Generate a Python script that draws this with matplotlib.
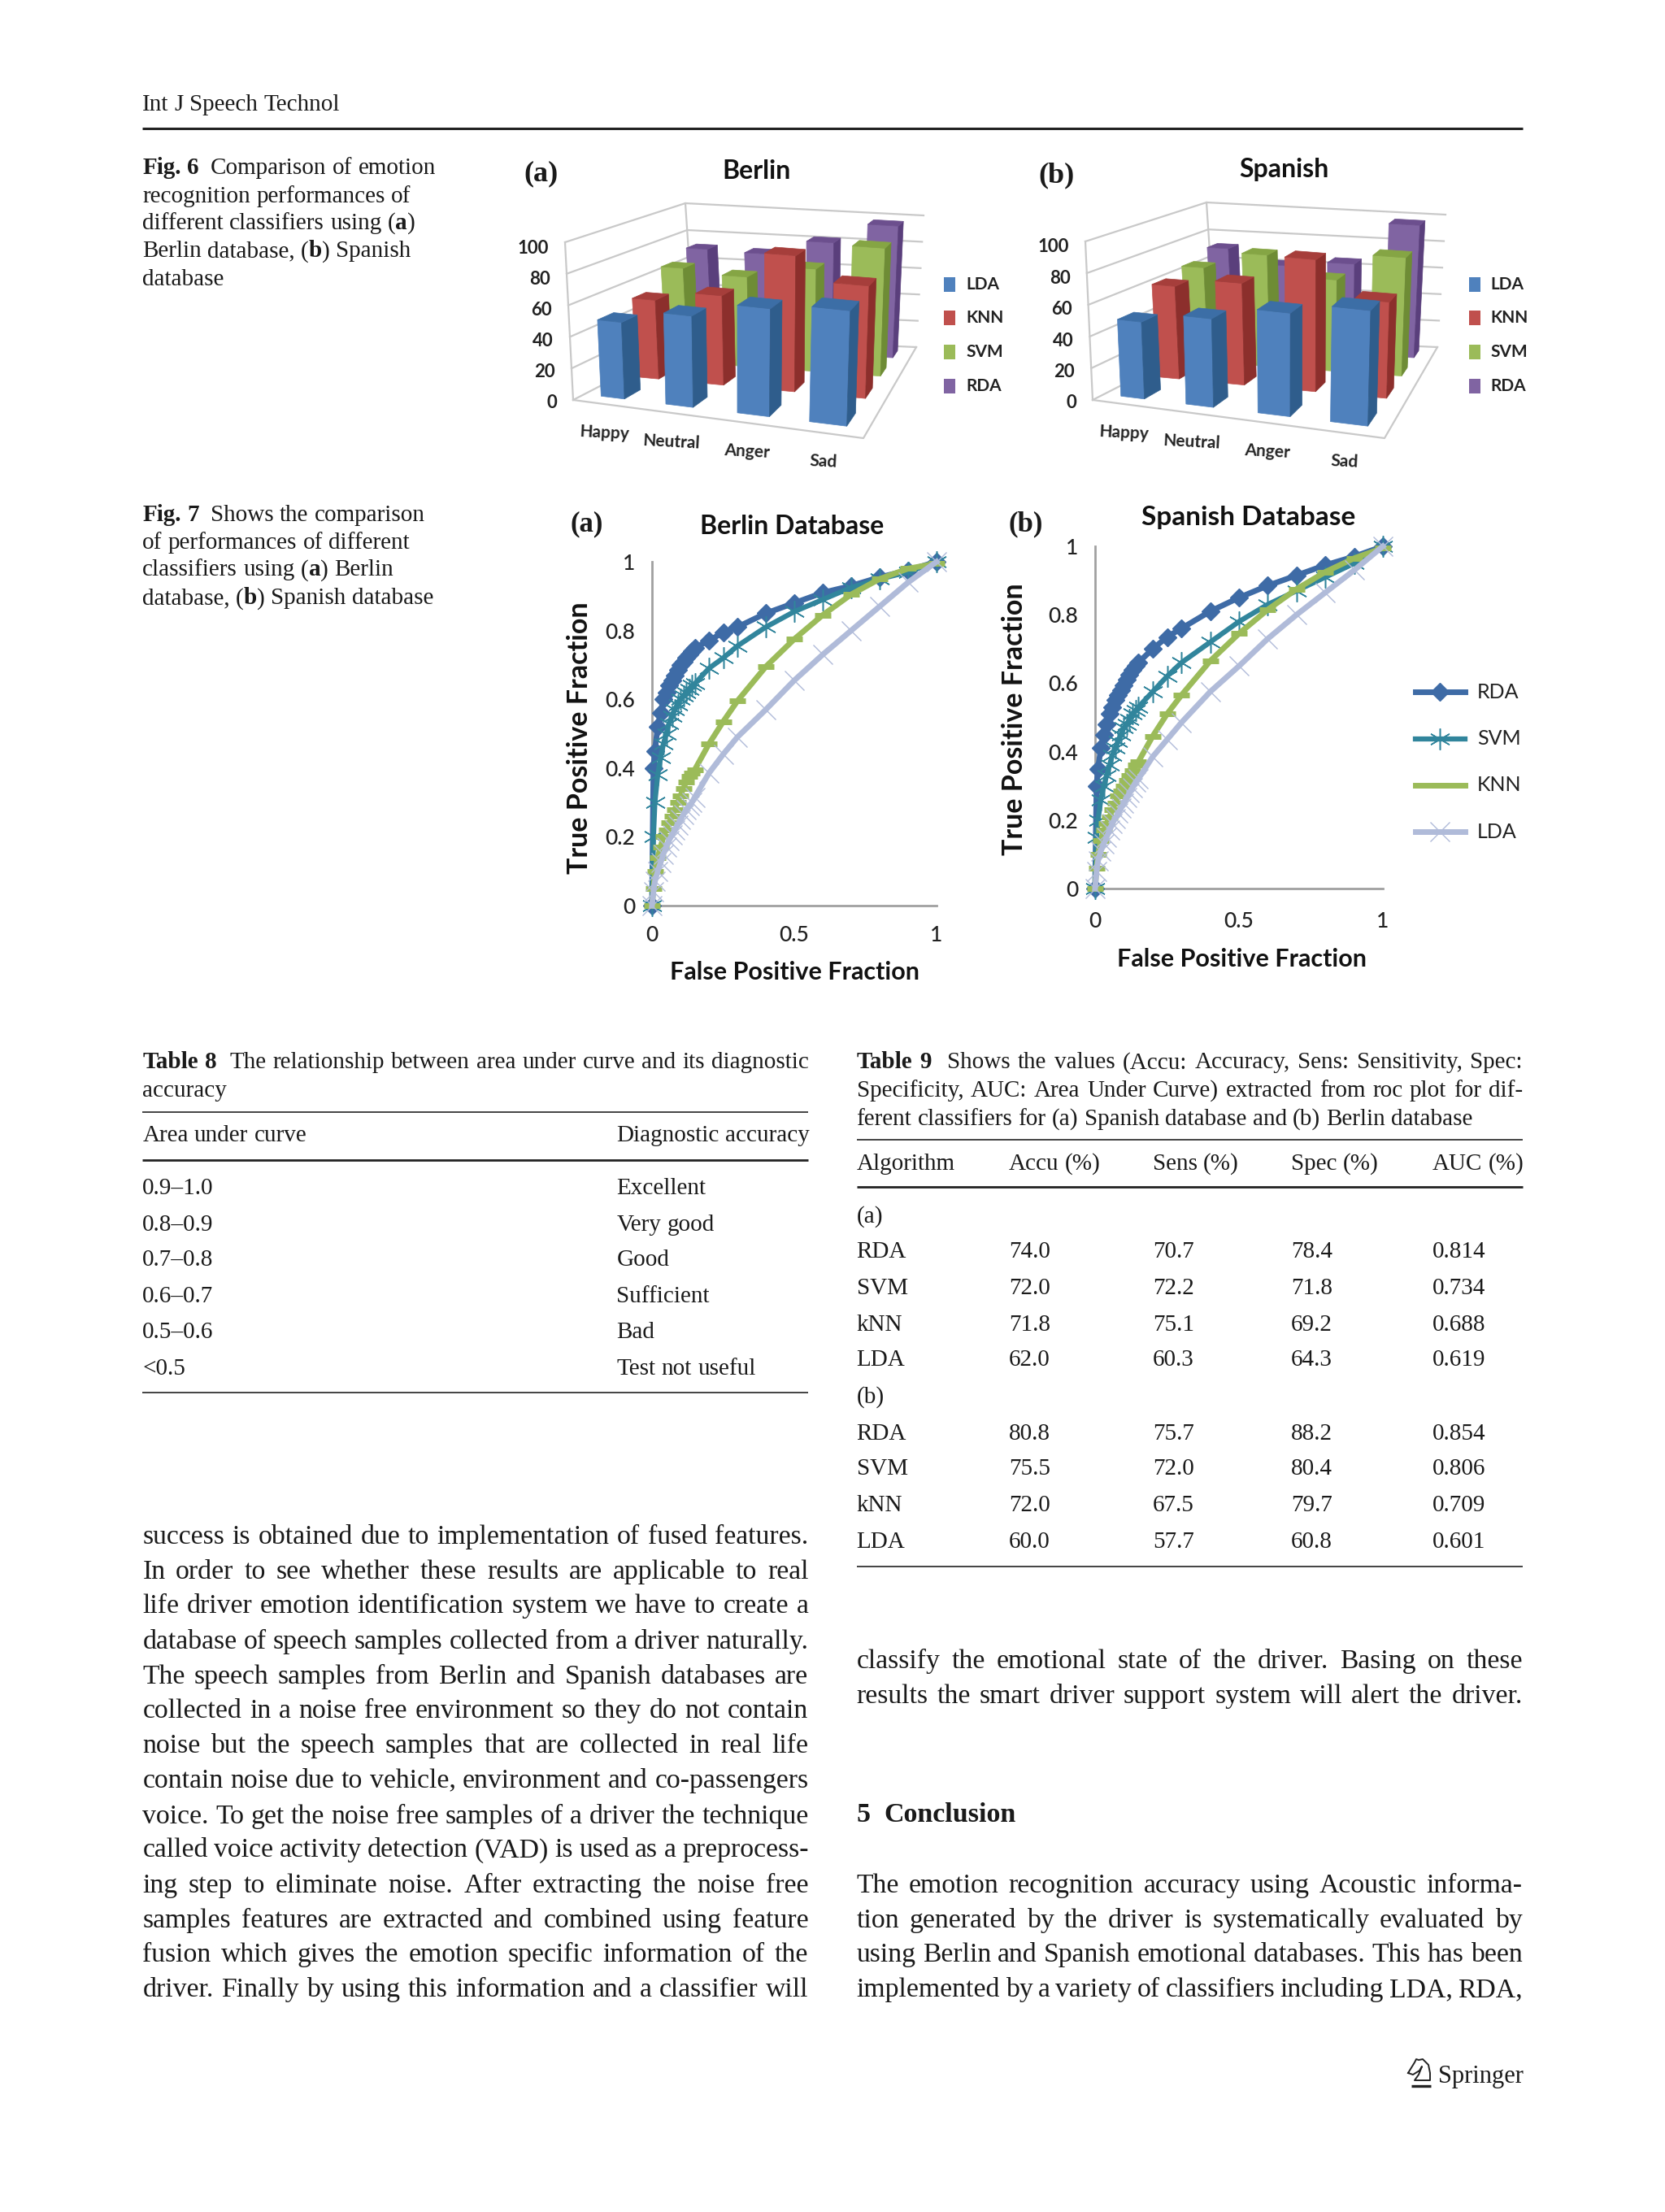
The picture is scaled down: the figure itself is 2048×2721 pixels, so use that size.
import numpy as np
import matplotlib
matplotlib.use("Agg")
import matplotlib.pyplot as plt

S = 2048 / 1180
SERIF = "Liberation Serif"
SANS = "Lato"

# --- figure 6 values
categories = ["Happy", "Neutral", "Anger", "Sad"]
bar_series = ["LDA", "KNN", "SVM", "RDA"]
berlin_lda = [49, 58, 68, 72]
berlin_knn = [53, 60, 91, 75]
berlin_svm = [66, 63, 72, 90]
berlin_rda = [72, 71, 82, 97]
spanish_lda = [49, 56, 65, 72]
spanish_knn = [62, 68, 88, 64]
spanish_svm = [66, 78, 64, 83]
spanish_rda = [72, 62, 66, 97]
value_ticks = [0, 20, 40, 60, 80, 100]
category_pos = [0.13, 0.405, 0.665, 0.89]

# --- figure 7 values
roc_fpr = [0, 0.005, 0.01, 0.02, 0.03, 0.04, 0.05, 0.06, 0.07, 0.08, 0.09, 0.10, 0.11, 0.12, 0.13,
           0.14, 0.15, 0.20, 0.25, 0.30, 0.40, 0.50, 0.60, 0.70, 0.80, 0.90, 1.0]
ber_rda = [0, 0.40, 0.45, 0.52, 0.56, 0.60, 0.62, 0.64, 0.655, 0.67, 0.685, 0.70, 0.71, 0.72, 0.73,
           0.74, 0.75, 0.77, 0.795, 0.81, 0.85, 0.88, 0.91, 0.93, 0.955, 0.975, 1.0]
ber_svm = [0, 0.20, 0.30, 0.38, 0.43, 0.47, 0.50, 0.53, 0.55, 0.57, 0.585, 0.60, 0.61, 0.62, 0.63,
           0.64, 0.645, 0.69, 0.72, 0.755, 0.81, 0.855, 0.89, 0.925, 0.95, 0.97, 1.0]
ber_knn = [0, 0.05, 0.10, 0.14, 0.17, 0.20, 0.22, 0.24, 0.26, 0.28, 0.30, 0.32, 0.34, 0.36, 0.375,
           0.385, 0.395, 0.47, 0.535, 0.595, 0.695, 0.775, 0.845, 0.905, 0.95, 0.98, 0.995]
ber_lda = [0, 0.04, 0.07, 0.10, 0.125, 0.15, 0.17, 0.19, 0.205, 0.22, 0.235, 0.25, 0.265, 0.28, 0.29,
           0.30, 0.315, 0.385, 0.44, 0.49, 0.57, 0.655, 0.73, 0.80, 0.87, 0.94, 1.0]
spa_rda = [0, 0.30, 0.35, 0.41, 0.45, 0.48, 0.51, 0.53, 0.55, 0.565, 0.58, 0.595, 0.61, 0.625, 0.64,
           0.65, 0.66, 0.70, 0.735, 0.76, 0.81, 0.85, 0.885, 0.915, 0.945, 0.97, 1.0]
spa_svm = [0, 0.15, 0.20, 0.26, 0.30, 0.33, 0.36, 0.39, 0.41, 0.43, 0.45, 0.47, 0.48, 0.495, 0.51,
           0.52, 0.53, 0.575, 0.62, 0.66, 0.72, 0.78, 0.83, 0.87, 0.91, 0.95, 1.0]
spa_knn = [0, 0.06, 0.10, 0.14, 0.17, 0.19, 0.21, 0.23, 0.25, 0.27, 0.285, 0.30, 0.315, 0.33, 0.345,
           0.36, 0.37, 0.445, 0.51, 0.565, 0.665, 0.745, 0.815, 0.875, 0.925, 0.965, 0.995]
spa_lda = [0, 0.05, 0.08, 0.11, 0.13, 0.15, 0.17, 0.19, 0.205, 0.22, 0.235, 0.25, 0.265, 0.28, 0.295,
           0.31, 0.32, 0.385, 0.435, 0.485, 0.575, 0.65, 0.73, 0.80, 0.865, 0.93, 1.0]

# --- tables
table8_head = ["Area under curve", "Diagnostic accuracy"]
table8_area = ["0.9–1.0", "0.8–0.9", "0.7–0.8", "0.6–0.7", "0.5–0.6", "<0.5"]
table8_diag = ["Excellent", "Very good", "Good", "Sufficient", "Bad", "Test not useful"]
table9_head = ["Algorithm", "Accu (%)", "Sens (%)", "Spec (%)", "AUC (%)"]
table9_rows = [["(a)"],
               ["RDA", "74.0", "70.7", "78.4", "0.814"],
               ["SVM", "72.0", "72.2", "71.8", "0.734"],
               ["kNN", "71.8", "75.1", "69.2", "0.688"],
               ["LDA", "62.0", "60.3", "64.3", "0.619"],
               ["(b)"],
               ["RDA", "80.8", "75.7", "88.2", "0.854"],
               ["SVM", "75.5", "72.0", "80.4", "0.806"],
               ["kNN", "72.0", "67.5", "79.7", "0.709"],
               ["LDA", "60.0", "57.7", "60.8", "0.601"]]

body_left = ["success is obtained due to implementation of fused features.",
             "In order to see whether these results are applicable to real",
             "life driver emotion identification system we have to create a",
             "database of speech samples collected from a driver naturally.",
             "The speech samples from Berlin and Spanish databases are",
             "collected in a noise free environment so they do not contain",
             "noise but the speech samples that are collected in real life",
             "contain noise due to vehicle, environment and co-passengers",
             "voice. To get the noise free samples of a driver the technique",
             "called voice activity detection (VAD) is used as a preprocess-",
             "ing step to eliminate noise. After extracting the noise free",
             "samples features are extracted and combined using feature",
             "fusion which gives the emotion specific information of the",
             "driver. Finally by using this information and a classifier will"]
body_left_y = [1089, 1114, 1138, 1163, 1188, 1212, 1237, 1262, 1287, 1311, 1336, 1361, 1385, 1410]
body_right = ["classify the emotional state of the driver. Basing on these",
              "results the smart driver support system will alert the driver.",
              "The emotion recognition accuracy using Acoustic informa-",
              "tion generated by the driver is systematically evaluated by",
              "using Berlin and Spanish emotional databases. This has been",
              "implemented by a variety of classifiers including LDA, RDA,"]
body_right_y = [1177, 1202, 1336, 1361, 1385, 1410]

fig = plt.figure(figsize=(20.48, 27.21), dpi=100)
page = fig.add_axes([0, 0, 1, 1])
page.set_xlim(0, 2048)
page.set_ylim(2721, 0)
page.axis("off")
rend = fig.canvas.get_renderer()


def width(txt, size, bold):
    t = page.text(0, 0, txt, family=SERIF, fontsize=size, weight="bold" if bold else "normal")
    w = t.get_window_extent(rend).width
    t.remove()
    return w


def line(s, x, y, size=21, x1=None):
    # s: '|' toggles bold, x/y/x1 in the 1180 view, x1 set means justified
    frags = []
    pending = 0
    for i, run in enumerate(s.split("|")):
        for j, word in enumerate(run.split(" ")):
            if j > 0:
                pending += 1
            if word:
                frags.append([word, i % 2 == 1, pending])
                pending = 0
    widths = [width(f[0], size, f[1]) for f in frags]
    gaps = sum(f[2] for f in frags[1:])
    gap = width("n n", size, False) - width("nn", size, False)
    if x1 is not None and gaps:
        gap = ((x1 - x) * S - sum(widths)) / gaps
    px = x * S
    for k, (f, w) in enumerate(zip(frags, widths)):
        if k > 0:
            px += gap * f[2]
        page.text(px, (y + 5.2) * S, f[0], family=SERIF, fontsize=size, va="baseline",
                  weight="bold" if f[1] else "normal", color="#1a1a1a")
        px += w


def rule(x0, x1, y, lw=1.2):
    page.plot([x0 * S, x1 * S], [y * S, y * S], color="#222222", lw=lw, solid_capstyle="butt")


def unit_square_map(corners):
    # projective map of the unit square on four image points
    (x0, y0), (x1, y1), (x2, y2), (x3, y3) = corners
    dx1, dx2, sx = x1 - x2, x3 - x2, x0 - x1 + x2 - x3
    dy1, dy2, sy = y1 - y2, y3 - y2, y0 - y1 + y2 - y3
    g, h = np.linalg.solve([[dx1, dx2], [dy1, dy2]], [sx, sy])
    a, b, c = x1 - x0 + g * x1, x3 - x0 + h * x3, x0
    d, e, f = y1 - y0 + g * y1, y3 - y0 + h * y3, y0

    def to_image(u, v):
        w = g * u + h * v + 1
        return np.array([(a * u + b * v + c) / w, (d * u + e * v + f) / w])
    return to_image


BAR_COLORS = [("#4F81BD", "#2F5D8C", "#3C6EA6"),
              ("#C0504D", "#8C2F2C", "#A63E3B"),
              ("#9BBB59", "#6E8C35", "#85A544"),
              ("#8064A2", "#5A3F7C", "#6C4F8E")]


def bars3d(floor, top, values, legend_x, cat_dx):
    low = unit_square_map(floor)
    high = unit_square_map(top)

    def P(u, v, z):
        a = low(u, v)
        return a + (high(u, v) - a) * z / 100.0

    # walls
    grid = dict(color="#c9c9c9", lw=1.6, zorder=1)
    for z in value_ticks:
        pts = np.array([P(0, 0, z), P(0, 1, z), P(1, 1, z)])
        page.plot(pts[:, 0], pts[:, 1], **grid)
    for u, v in [(0, 0), (0, 1)]:
        pts = np.array([P(u, v, 0), P(u, v, 100)])
        page.plot(pts[:, 0], pts[:, 1], **grid)
    pts = np.array([P(0, 0, 0), P(1, 0, 0), P(1, 1, 0)])
    page.plot(pts[:, 0], pts[:, 1], **grid)

    du, dv = 0.052, 0.055
    for s in range(3, -1, -1):
        for c in range(4):
            uc, vc = category_pos[c], (s + 0.5) / 4
            z = values[s][c]
            u0, u1, v0, v1 = uc - du, uc + du, vc - dv, vc + dv
            face, side, cap = BAR_COLORS[s]
            polys = [([P(u0, v0, 0), P(u1, v0, 0), P(u1, v0, z), P(u0, v0, z)], face),
                     ([P(u1, v0, 0), P(u1, v1, 0), P(u1, v1, z), P(u1, v0, z)], side),
                     ([P(u0, v0, z), P(u1, v0, z), P(u1, v1, z), P(u0, v1, z)], cap)]
            for poly, col in polys:
                poly = np.array(poly)
                page.fill(poly[:, 0], poly[:, 1], color=col, lw=0.5, zorder=3 + (3 - s))

    for z in value_ticks:
        p = P(0, 0, z)
        page.text(p[0] - 20, p[1] + 4 + 3 * z / 100, str(z), ha="right", va="center", family=SANS,
                  fontsize=16, weight="bold", color="#222222")
    for c, name in enumerate(categories):
        p = P(category_pos[c], 0, 0)
        page.text(p[0] + cat_dx, p[1] + 36, name, ha="center", va="center", family=SANS,
                  fontsize=15, weight="bold", rotation=-3, color="#222222")
    for s, name in enumerate(bar_series):
        y = (201.5 + 24 * s) * S
        page.fill([legend_x - 7, legend_x + 7, legend_x + 7, legend_x - 7],
                  [y - 9, y - 9, y + 9, y + 9], color=BAR_COLORS[s][0], lw=0)
        page.text(legend_x + 20, y, name, va="center", family=SANS, fontsize=15,
                  weight="bold", color="#222222")


def roc(box, curves, title, tcen, xlab, ylab, xpad, tsize=23):
    x0, x1, ytop, ybot = box
    ax = fig.add_axes([x0 / 2048, 1 - ybot / 2721, (x1 - x0) / 2048, (ybot - ytop) / 2721])
    ax.patch.set_alpha(0)
    styles = [dict(color="#3E6BA6", marker="D", ms=11, lw=5),
              dict(color="#31859C", marker=(6, 2, 0), ms=19, mew=1.1, lw=4.5),
              dict(color="#9BBB59", marker="_", ms=15, mew=5, lw=5),
              dict(color="#B0BBD9", marker="x", ms=17, mew=1.0, lw=5)]
    for i, (name, ys, st) in enumerate(zip(["RDA", "SVM", "KNN", "LDA"], curves, styles)):
        ax.plot(roc_fpr, ys, clip_on=False, label=name, zorder=3 + i, **st)
    ax.set_xlim(0, 1)
    ax.set_ylim(0, 1)
    ax.set_xticks([0, 0.5, 1], ["0", "0.5", "1"])
    ax.set_yticks([0, 0.2, 0.4, 0.6, 0.8, 1], ["0", "0.2", "0.4", "0.6", "0.8", "1"])
    ax.tick_params(axis="x", length=0, labelsize=19, pad=xpad, labelcolor="#222222")
    ax.tick_params(axis="y", length=0, labelsize=19, pad=15, labelcolor="#222222")
    for lab in ax.get_xticklabels() + ax.get_yticklabels():
        lab.set_family(SANS)
        lab.set_weight("medium")
    for sp in ["top", "right"]:
        ax.spines[sp].set_visible(False)
    for sp in ["left", "bottom"]:
        ax.spines[sp].set_color("#a0a0a0")
        ax.spines[sp].set_linewidth(2)
    page.text(tcen[0] * S, tcen[1] * S, title, ha="center", va="center", family=SANS, fontsize=tsize,
              weight="bold", color="#111111")
    page.text(xlab[0] * S, xlab[1] * S, "False Positive Fraction", ha="center", va="center",
              family=SANS, fontsize=22, weight="bold", color="#111111")
    page.text(ylab[0] * S, ylab[1] * S, "True Positive Fraction", ha="center", va="center",
              family=SANS, fontsize=24.5, weight="bold", rotation=90, color="#111111")
    return ax


# header
line("Int J Speech Technol", 101, 73)
rule(101, 1079, 91, lw=2.2)

# figure 6
for i, s in enumerate(["|Fig. 6|  Comparison of emotion", "recognition performances of",
                       "different classifiers using (|a|)", "Berlin database, (|b|) Spanish", "database"]):
    line(s, 101, [118, 138, 157, 177, 197][i])
line("|(a)|", 371, 123, size=26)
line("|(b)|", 736, 124, size=26)
page.text(536 * S, 121 * S, "Berlin", ha="center", va="center", family=SANS, fontsize=23, weight="bold", color="#111111")
page.text(910 * S, 120 * S, "Spanish", ha="center", va="center", family=SANS, fontsize=23, weight="bold", color="#111111")
bars3d([(705, 492), (1062, 539), (1127, 427), (854, 415)],
       [(695, 298), (1069, 337), (1136, 265), (843, 250)],
       [berlin_lda, berlin_knn, berlin_svm, berlin_rda], 673 * S, 3)
bars3d([(1344, 492), (1703, 539), (1768, 427), (1495, 415)],
       [(1335, 297), (1709, 337), (1778, 264), (1484, 249)],
       [spanish_lda, spanish_knn, spanish_svm, spanish_rda], 1045 * S, 3)

# figure 7
for i, s in enumerate(["|Fig. 7|  Shows the comparison", "of performances of different",
                       "classifiers using (|a|) Berlin", "database, (|b|) Spanish database"]):
    line(s, 101, [364, 384, 403, 423][i])
line("|(a)|", 404, 371, size=25)
line("|(b)|", 715, 371, size=25)
roc((802, 1152, 691, 1114), [ber_rda, ber_svm, ber_knn, ber_lda], "Berlin Database", (561, 373), (563, 689), (411, 523), 17)
ax_sp = roc((1347, 1701, 672, 1093), [spa_rda, spa_svm, spa_knn, spa_lda], "Spanish Database", (885, 367), (880, 680), (719, 510), 20, tsize=24)
handles, labels = ax_sp.get_legend_handles_labels()
for i, (h, name) in enumerate(zip(handles, labels)):
    y = [490.5, 523.5, 556.5, 589.5][i] * S
    page.plot([1003 * S, 1038 * S], [y, y], color=h.get_color(), lw=h.get_linewidth(), zorder=2)
    page.plot([1020.5 * S], [y], color=h.get_color(), marker=h.get_marker(), ms=h.get_markersize(),
              mew=h.get_markeredgewidth(), zorder=3)
    page.text(1047 * S, y, name, va="center", family=SANS, fontsize=18, color="#222222")

# table 8
line("|Table 8|  The relationship between area under curve and its diagnostic", 101, 752, x1=573)
line("accuracy", 101, 772)
rule(101, 573, 788)
rule(101, 573, 822, lw=2)
line(table8_head[0], 101, 804)
line(table8_head[1], 437, 804)
for i, y in enumerate([841, 867, 892, 918, 943, 969]):
    line(table8_area[i], 101, y)
    line(table8_diag[i], 437, y)
rule(101, 573, 987)

# table 9
line("|Table 9|  Shows the values (Accu: Accuracy, Sens: Sensitivity, Spec:", 607, 752, x1=1079)
line("Specificity, AUC: Area Under Curve) extracted from roc plot for dif-", 607, 772, x1=1079)
line("ferent classifiers for (a) Spanish database and (b) Berlin database", 607, 792)
rule(607, 1079, 808)
rule(607, 1079, 841, lw=2)
col_x = [607, 715, 817, 915, 1015]
for cx, h in zip(col_x, table9_head):
    line(h, cx, 824)
for row, y in zip(table9_rows, [861, 886, 912, 938, 963, 989, 1015, 1040, 1066, 1092]):
    for cx, cell in zip(col_x, row):
        line(cell, cx, y)
rule(607, 1079, 1110)

# body
for s, y in zip(body_left, body_left_y):
    line(s, 101, y, size=24.3, x1=573)
for s, y in zip(body_right, body_right_y):
    line(s, 607, y, size=24.3, x1=1079)
line("|5  Conclusion|", 607, 1286, size=24.5)

# footer: publisher mark and name
horse_x = [1732, 1740, 1742, 1745, 1750, 1757, 1759, 1759, 1740, 1745, 1749, 1746, 1738, 1732]
horse_y = [2550, 2537, 2533, 2534, 2533, 2540, 2550, 2559, 2559, 2552, 2542, 2547, 2552, 2550]
page.plot(horse_x, horse_y, color="#222222", lw=1.4)
page.plot([1736, 1760], [2566, 2566], color="#222222", lw=2.4, solid_capstyle="butt")
line("Springer", 1019, 1471, size=22)

fig.savefig("out.png", dpi=100)
